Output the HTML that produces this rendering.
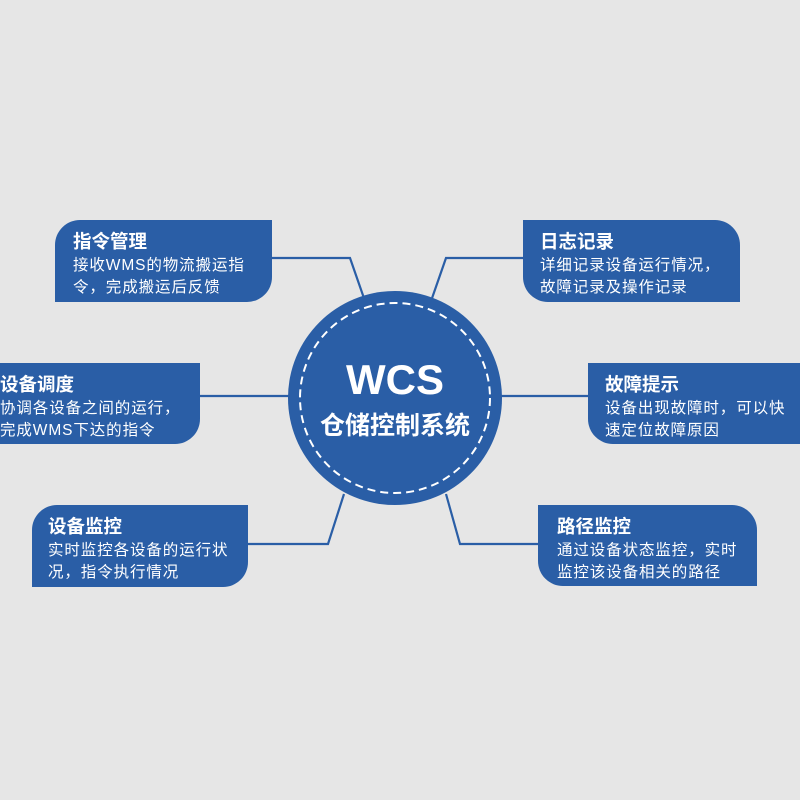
<!DOCTYPE html>
<html><head><meta charset="utf-8"><style>
html,body{margin:0;padding:0;background:#e6e6e6;}
svg{display:block}
text{font-family:"Liberation Sans","Noto Sans CJK SC",sans-serif;fill:#fff}
.t{font-size:18.5px;font-weight:bold}
.b{font-size:15.5px;letter-spacing:0.9px}
</style></head><body>
<svg width="800" height="800" viewBox="0 0 800 800">
<rect width="800" height="800" fill="#e6e6e6"/>
<g stroke="#2a5ea6" stroke-width="2.2" fill="none">
<polyline points="272,258 350,258 366,304"/>
<polyline points="200,396 290,396"/>
<polyline points="248,544 328,544 344,494"/>
<polyline points="523,258 446,258 430,304"/>
<polyline points="500,396 588,396"/>
<polyline points="538,544 460,544 446,494"/>
</g>
<g fill="#2a5ea6">
<path d="M80,220 H272 V277 A25,25 0 0 1 247,302 H55 V245 A25,25 0 0 1 80,220Z"/>
<path d="M-25,363 H200 V419 A25,25 0 0 1 175,444 H-25Z"/>
<path d="M57,505 H248 V562 A25,25 0 0 1 223,587 H32 V530 A25,25 0 0 1 57,505Z"/>
<path d="M523,220 H715 A25,25 0 0 1 740,245 V302 H548 A25,25 0 0 1 523,277Z"/>
<path d="M588,363 H825 V444 H613 A25,25 0 0 1 588,419Z"/>
<path d="M538,505 H732 A25,25 0 0 1 757,530 V586 H563 A25,25 0 0 1 538,561Z"/>
<circle cx="395" cy="398" r="107"/>
</g>
<circle cx="395" cy="398" r="95" fill="none" stroke="#fff" stroke-width="2" stroke-dasharray="8,5"/>
<text x="395" y="394" text-anchor="middle" style="font-size:42px;font-weight:bold">WCS</text>
<text x="395" y="434" text-anchor="middle" style="font-size:25px;font-weight:bold">仓储控制系统</text>

<text class="t" x="73" y="248">指令管理</text>
<text class="b" x="73" y="270">接收WMS的物流搬运指</text>
<text class="b" x="73" y="292">令，完成搬运后反馈</text>

<text class="t" x="0" y="391">设备调度</text>
<text class="b" x="0" y="413">协调各设备之间的运行，</text>
<text class="b" x="0" y="435">完成WMS下达的指令</text>

<text class="t" x="48" y="533">设备监控</text>
<text class="b" x="48" y="555">实时监控各设备的运行状</text>
<text class="b" x="48" y="577">况，指令执行情况</text>

<text class="t" x="540" y="248">日志记录</text>
<text class="b" x="540" y="270">详细记录设备运行情况，</text>
<text class="b" x="540" y="292">故障记录及操作记录</text>

<text class="t" x="605" y="391">故障提示</text>
<text class="b" x="605" y="413">设备出现故障时，可以快</text>
<text class="b" x="605" y="435">速定位故障原因</text>

<text class="t" x="557" y="533">路径监控</text>
<text class="b" x="557" y="555">通过设备状态监控，实时</text>
<text class="b" x="557" y="577">监控该设备相关的路径</text>
</svg>
</body></html>
